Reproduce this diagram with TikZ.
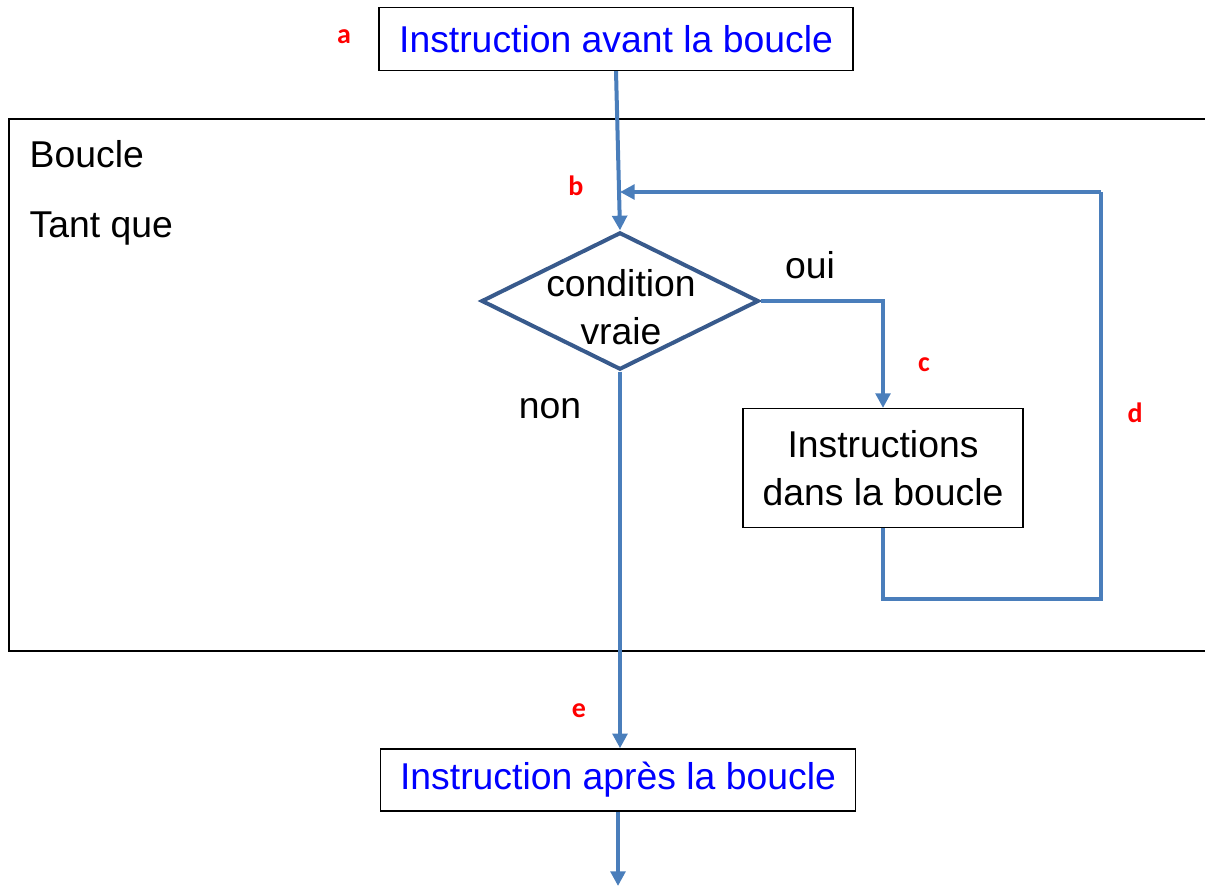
\documentclass[tikz,border=0pt]{standalone}
\usepackage{fontspec}
\setmainfont{Liberation Sans}
\newfontfamily\labelfont{Carlito}
\usetikzlibrary{arrows.meta,shapes.geometric,positioning}

\definecolor{flowblue}{RGB}{74,126,187}
\definecolor{diamblue}{RGB}{56,90,140}

\tikzset{
    box/.style={draw=black, line width=1.1pt, fill=white, inner sep=0pt},
    flow/.style={draw=flowblue, line width=3pt, -{Triangle[length=11pt,width=11pt]}},
    flowline/.style={draw=flowblue, line width=3pt},
    tag/.style={text=red, font=\labelfont\bfseries\fontsize{21}{24}\selectfont},
    txt/.style={font=\fontsize{28}{36}\selectfont, align=center},
}

\begin{document}
\begin{tikzpicture}[x=0.75pt, y=-0.75pt]
        \useasboundingbox (0,0) rectangle (1205,886);
        % cadre de la boucle
        \draw[line width=1.1pt] (1215,119) -- (9,119) -- (9,651) -- (1215,651);
        \node[txt, anchor=west] (boucle) at (25,154) {Boucle};
        \node[txt, anchor=west] (tantque) at (25,229) {Tant que};

        % les noeuds
        \node[box, txt, text=blue, minimum width=355.5pt, minimum height=47pt] (avant) at (616,39) {Instruction avant la boucle};
        \node[draw=diamblue, line width=3pt, diamond, inner sep=0pt, minimum width=208pt, minimum height=103pt] (cond) at (620,301) {};
        \node[txt] (condtxt) at (621,307) {condition\\vraie};
        \node[box, txt, minimum width=210pt, minimum height=89pt] (dans) at (883,468) {Instructions\\dans la boucle};
        \node[box, txt, text=blue, minimum width=356pt, minimum height=46.5pt] (apres) at (618,780) {Instruction apr\`es la boucle};

        \coordinate (retour) at (1101,599);
        \coordinate (haut) at (1101,192);
        \coordinate (fin) at (618,886);

        % les fleches
        \draw[flow] (avant.south) -- (cond.north);
        \draw[flow] (cond.east) -| (dans.north);
        \draw[flowline] (dans.south) |- (retour) -- (haut);
        \draw[flow] (haut) -- (haut -| cond.north);
        \draw[flow] (cond.south) -- (cond.south |- apres.north);
        \draw[flow] (apres.south) -- (fin);

        \node[txt] (oui) at (810,265) {oui};
        \node[txt] (non) at (550,409) {non};

        % reperes
        \node[tag] (la) at (344,37) {a};
        \node[tag] (lb) at (576,186) {b};
        \node[tag] (lc) at (924,365) {c};
        \node[tag] (ld) at (1135,413) {d};
        \node[tag] (le) at (579,711) {e};
    \end{tikzpicture}
\end{document}
